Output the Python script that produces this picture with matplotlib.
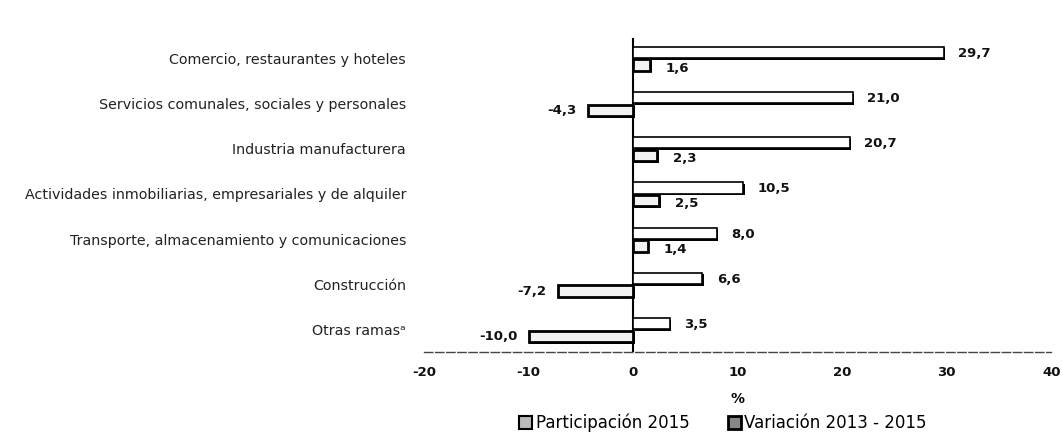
import matplotlib
matplotlib.use("Agg")
import matplotlib.pyplot as plt
from matplotlib.patches import Patch
import matplotlib.patheffects as pe
import numpy as np

plt.rcParams['font.family'] = ['DejaVu Sans']

categories = [
    "Comercio, restaurantes y hoteles",
    "Servicios comunales, sociales y personales",
    "Industria manufacturera",
    "Actividades inmobiliarias, empresariales y de alquiler",
    "Transporte, almacenamiento y comunicaciones",
    "Construcción",
    "Otras ramas\u1d43",
]
participacion_2015 = [29.7, 21.0, 20.7, 10.5, 8.0, 6.6, 3.5]
variacion_2013_2015 = [1.6, -4.3, 2.3, 2.5, 1.4, -7.2, -10.0]
xticks = [-20, -10, 0, 10, 20, 30, 40]
series_names = ["Participación 2015", "Variación 2013 - 2015"]

fig = plt.figure(figsize=(10.63, 4.38), dpi=100)
ax = fig.add_axes([0.399, 0.196, 0.590, 0.7226])

y = np.arange(len(categories))
h = 0.25
shadow = [pe.SimplePatchShadow(offset=(1.2, -1.2), shadow_rgbFace='black', alpha=1.0), pe.Normal()]
b1 = ax.barh(y - 0.13, participacion_2015, height=h, color='white', edgecolor='black', linewidth=1.2)
b2 = ax.barh(y + 0.15, variacion_2013_2015, height=h, color='#f2f2f2', edgecolor='black', linewidth=2.0)
for b in list(b1) + list(b2):
    b.set_path_effects(shadow)

def fmt(v):
    return f"{v:.1f}".replace('.', ',')

for yi, v in zip(y, participacion_2015):
    ax.text(v + 1.4, yi - 0.11, fmt(v), ha='left', va='center', fontsize=9.5, fontweight='bold', color='#111111')
for yi, v in zip(y, variacion_2013_2015):
    if v >= 0:
        ax.text(v + 1.5, yi + 0.22, fmt(v), ha='left', va='center', fontsize=9.5, fontweight='bold', color='#111111')
    else:
        ax.text(v - 1.1, yi + 0.16, fmt(v), ha='right', va='center', fontsize=9.5, fontweight='bold', color='#111111')

ax.set_xlim(-20, 40)
ax.set_ylim(6.5, -0.5)
ax.axvline(0, color='black', linewidth=1.5, zorder=0.5, ymin=0, ymax=0.99)

ax.set_yticks(y)
ax.set_yticklabels(categories, fontsize=10.3, color='#222222')
ax.set_xticks(xticks)
ax.set_xticklabels([str(t) for t in xticks], fontsize=9.5, fontweight='bold', color='#111111')
ax.tick_params(axis='y', length=0, pad=13)
ax.tick_params(axis='x', length=0, pad=10)
for s in ['left', 'right', 'top']:
    ax.spines[s].set_visible(False)
ax.spines['bottom'].set_color('#444444')
ax.spines['bottom'].set_linewidth(1.0)
ax.spines['bottom'].set_linestyle((0, (6, 2)))

ax.set_xlabel('%', fontsize=10, fontweight='bold', labelpad=9)

handles = [Patch(facecolor='#bbbbbb', edgecolor='black', linewidth=1.5),
           Patch(facecolor='#888888', edgecolor='black', linewidth=2.0)]
fig.legend(handles, series_names, loc='center', bbox_to_anchor=(0.68, 0.035), ncol=2,
           frameon=False, fontsize=12, handlelength=0.8, handleheight=0.8,
           handletextpad=0.2, columnspacing=2.3)

fig.savefig('out.png', dpi=100)
